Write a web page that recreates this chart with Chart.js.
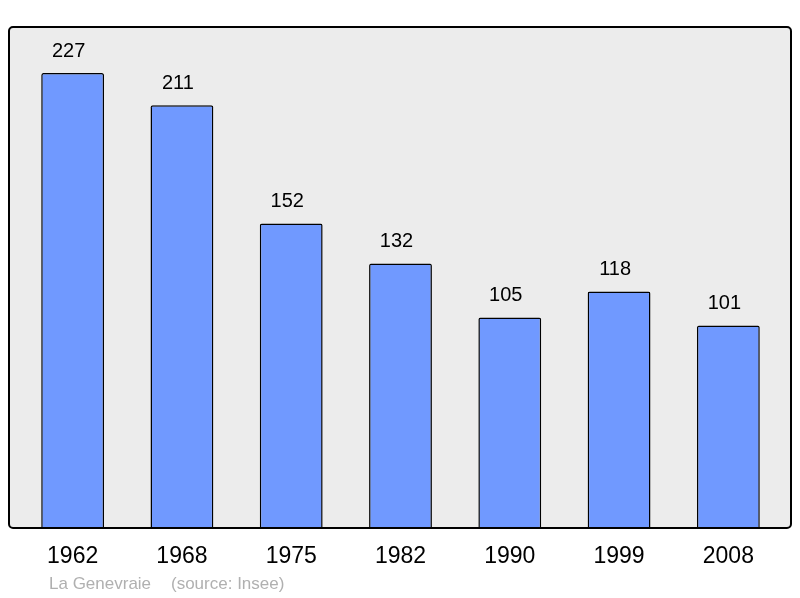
<!DOCTYPE html>
<html>
<head>
<meta charset="utf-8">
<script src="https://cdn.jsdelivr.net/npm/chart.js@4"></script>
<style>
  html, body { margin: 0; padding: 0; background: #fff; }
  #wrap { width: 800px; height: 598px; position: relative; }
</style>
</head>
<body>
<div id="wrap"><canvas id="chart"></canvas></div>
<script>
const years = ['1962', '1968', '1975', '1982', '1990', '1999', '2008'];
const population = [227, 211, 152, 132, 105, 118, 101];
const yMax = 250;
const commune = 'La Genevraie';
const source = '(source: Insee)';

const FONT = '"Liberation Sans", Arial, sans-serif';

// grey frame behind the bars, value labels and year labels
const framePlugin = {
  id: 'frame',
  beforeDraw(chart) {
    const ctx = chart.ctx;
    ctx.save();
    ctx.beginPath();
    ctx.roundRect(9, 27, 782, 501, 4);
    ctx.fillStyle = '#ececec';
    ctx.fill();
    ctx.restore();
  },
  afterDatasetsDraw(chart) {
    const ctx = chart.ctx;
    const x = chart.scales.x;
    const meta = chart.getDatasetMeta(0);
    ctx.save();
    ctx.beginPath();
    ctx.roundRect(9, 27, 782, 501, 4);
    ctx.lineWidth = 2;
    ctx.strokeStyle = '#000';
    ctx.stroke();

    ctx.fillStyle = '#000';
    ctx.textAlign = 'center';
    ctx.textBaseline = 'middle';
    ctx.font = '20px ' + FONT;
    meta.data.forEach((bar, i) => {
      ctx.fillText(String(population[i]), bar.x - 4, bar.y - 22);
    });

    ctx.font = '23px ' + FONT;
    years.forEach((y, i) => {
      ctx.fillText(y, x.getPixelForValue(i), 557);
    });

    ctx.textAlign = 'left';
    ctx.fillStyle = '#b0b0b0';
    ctx.font = '17px ' + FONT;
    ctx.fillText(commune, 49, 584);
    ctx.fillText(source, 171, 584);
    ctx.restore();
  }
};

new Chart(document.getElementById('chart'), {
  type: 'bar',
  data: {
    labels: years,
    datasets: [{
      data: population,
      backgroundColor: '#7099ff',
      borderColor: '#000',
      borderWidth: 1.5,
      borderRadius: 2,
      borderSkipped: 'bottom',
      barPercentage: 0.575,
      categoryPercentage: 1
    }]
  },
  options: {
    responsive: true,
    maintainAspectRatio: false,
    animation: false,
    layout: { padding: { left: 18, right: 17, top: 27, bottom: 70 } },
    plugins: { legend: { display: false }, tooltip: { enabled: false } },
    scales: {
      x: { display: false },
      y: { display: false, min: 0, max: yMax }
    }
  },
  plugins: [framePlugin]
});
</script>
</body>
</html>
